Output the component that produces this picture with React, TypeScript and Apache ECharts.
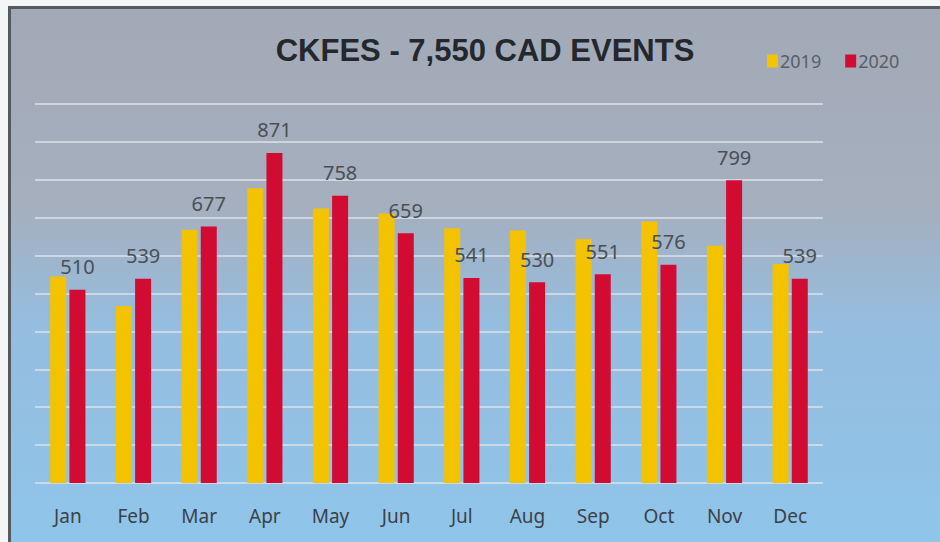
import React, { useEffect, useRef } from "react";
import * as echarts from "echarts";

const months = ["Jan", "Feb", "Mar", "Apr", "May", "Jun", "Jul", "Aug", "Sep", "Oct", "Nov", "Dec"];
const values2019 = [545, 467, 668, 778, 724, 711, 672, 666, 644, 690, 626, 578];
const values2020 = [510, 539, 677, 871, 758, 659, 541, 530, 551, 576, 799, 539];
const seriesNames = ["2019", "2020"];
const titleText = "CKFES - 7,550 CAD EVENTS";

export default function App() {
  const ref = useRef<HTMLDivElement>(null);
  useEffect(() => {
    document.body.style.margin = "0";
    const chart = echarts.init(ref.current!, null, { renderer: "svg" });
    chart.setOption({
      animation: false,
      backgroundColor: new echarts.graphic.LinearGradient(0, 0, 0, 1, [
        { offset: 0, color: "#a2a9b6" },
        { offset: 0.38, color: "#a5afbe" },
        { offset: 0.6, color: "#95bddf" },
        { offset: 1, color: "#8fc5ea" },
      ]),
      title: {
        text: titleText,
        left: 480,
        top: 30,
        textAlign: "center",
        textStyle: {
          fontFamily: "'Liberation Sans', sans-serif",
          fontWeight: "bold",
          fontSize: 31,
          color: "#24282d",
        },
      },
      legend: {
        data: seriesNames,
        left: 762,
        top: 47,
        itemWidth: 11,
        itemHeight: 13,
        itemGap: 24,
        icon: "rect",
        textStyle: { fontFamily: "'Noto Sans', sans-serif", fontSize: 18, color: "#5a5f66", padding: [0, 0, 0, -3] },
      },
      graphic: [
        { type: "rect", shape: { x: 0, y: 0, width: 940, height: 6 }, style: { fill: "#f4f5f6" }, z: 100 },
        { type: "rect", shape: { x: 0, y: 0, width: 8, height: 542 }, style: { fill: "#f4f5f6" }, z: 100 },
        { type: "rect", shape: { x: 8, y: 6, width: 932, height: 3 }, style: { fill: "#555a60" }, z: 100 },
        { type: "rect", shape: { x: 8, y: 6, width: 3, height: 536 }, style: { fill: "#555a60" }, z: 100 },
      ],
      grid: { left: 35, right: 117, top: 104, bottom: 59 },
      xAxis: {
        type: "category",
        data: months,
        axisLine: { show: false },
        axisTick: { show: false },
        axisLabel: { margin: 23, fontSize: 19, color: "#3c4147", fontFamily: "'Noto Sans', sans-serif" },
      },
      yAxis: {
        type: "value",
        min: 0,
        max: 1000,
        interval: 100,
        axisLabel: { show: false },
        axisLine: { show: false },
        axisTick: { show: false },
        splitLine: { lineStyle: { color: "#dde2e8", width: 1.5 } },
      },
      series: [
        {
          name: seriesNames[0],
          type: "bar",
          data: values2019,
          barWidth: 16,
          barGap: "20%",
          itemStyle: { color: "#f4c300" },
        },
        {
          name: seriesNames[1],
          type: "bar",
          data: values2020,
          barWidth: 16,
          itemStyle: { color: "#d20b33" },
          label: {
            show: true,
            position: "top",
            distance: 13,
            fontSize: 20,
            color: "#4a4f56",
            fontFamily: "'Noto Sans', sans-serif",
          },
        },
      ],
    });
    return () => chart.dispose();
  }, []);
  return <div ref={ref} style={{ width: 940, height: 542 }} />;
}
